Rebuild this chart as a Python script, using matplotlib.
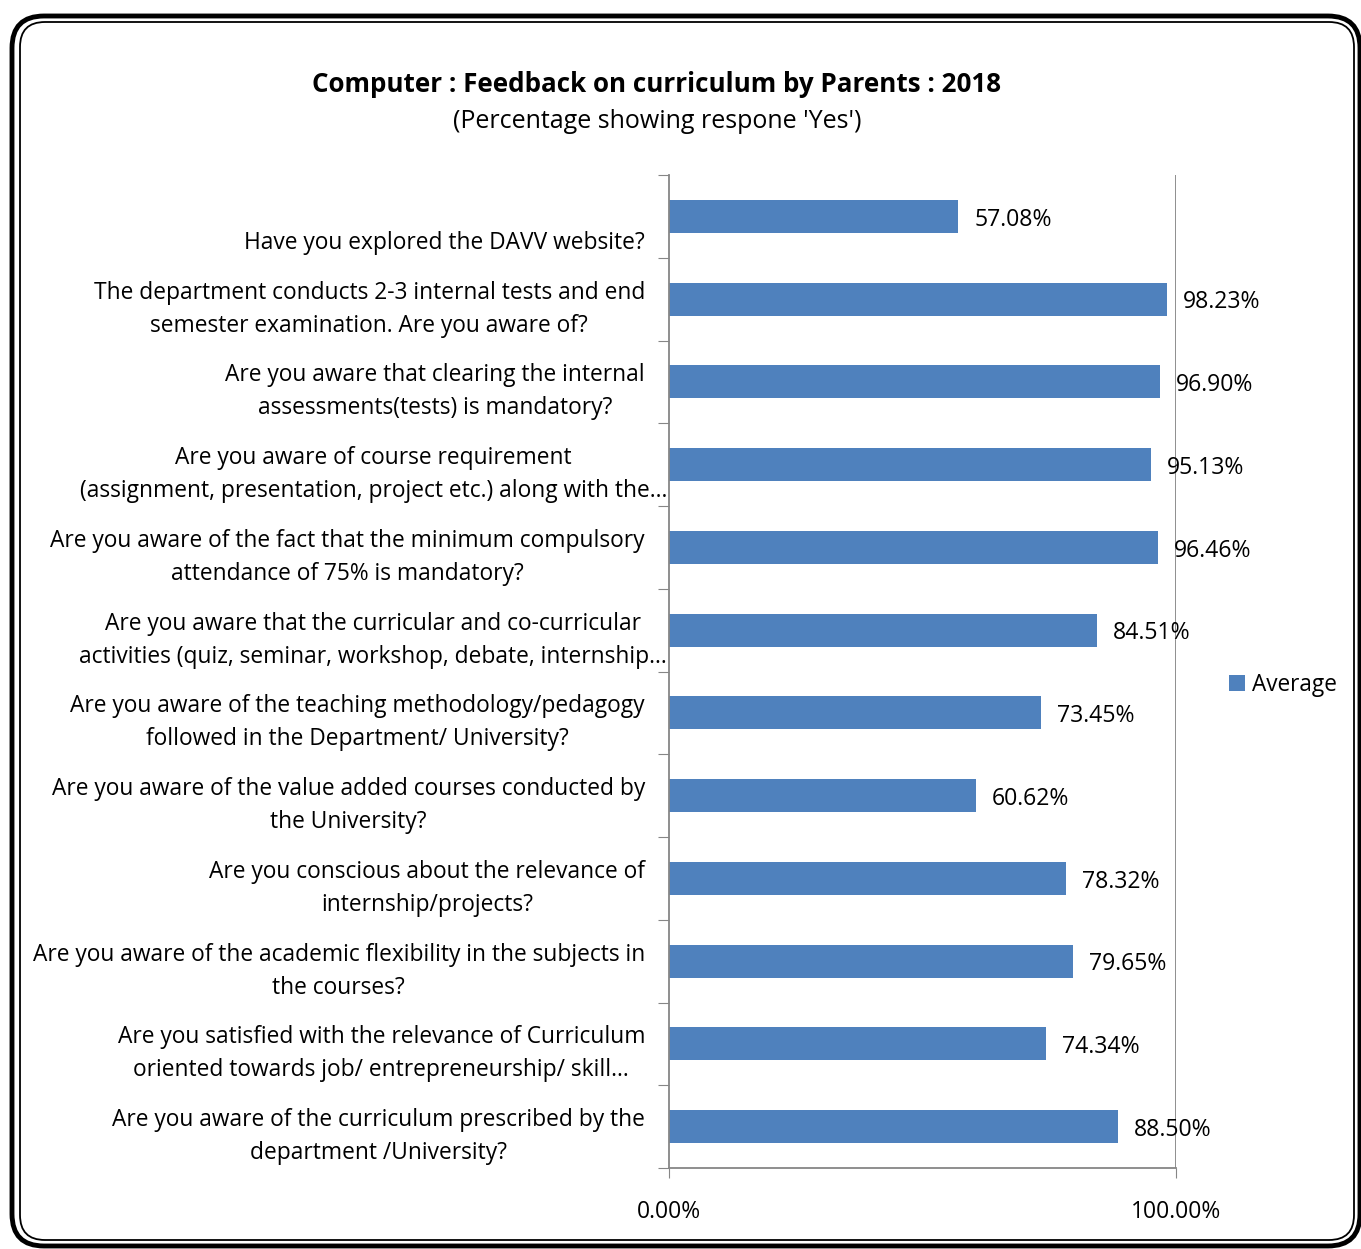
import matplotlib
matplotlib.use('Agg')
import matplotlib.pyplot as plt
from matplotlib.patches import FancyBboxPatch
from matplotlib.transforms import blended_transform_factory, offset_copy

plt.rcParams['font.family'] = ['Open Sans', 'DejaVu Sans']

# categories listed bottom to top (Excel order)
questions = [
    "Are you aware of the curriculum prescribed by the\ndepartment /University?",
    "Are you satisfied with the relevance of Curriculum\noriented towards job/ entrepreneurship/ skill…",
    "Are you aware of the academic flexibility in the subjects in\nthe courses?",
    "Are you conscious about the relevance of\ninternship/projects?",
    "Are you aware of the value added courses conducted by\nthe University?",
    "Are you aware of the teaching methodology/pedagogy\nfollowed in the Department/ University?",
    "Are you aware that the curricular and co-curricular\nactivities (quiz, seminar, workshop, debate, internship…",
    "Are you aware of the fact that the minimum compulsory\nattendance of 75% is mandatory?",
    "Are you aware of course requirement\n(assignment, presentation, project etc.) along with the…",
    "Are you aware that clearing the internal\nassessments(tests) is mandatory?",
    "The department conducts 2-3 internal tests and end\nsemester examination. Are you aware of?",
    "\nHave you explored the DAVV website?",
]
average = [88.50, 74.34, 79.65, 78.32, 60.62, 73.45, 84.51, 96.46, 95.13, 96.90, 98.23, 57.08]
truncated = [6, 8]  # labels that run past the usual right edge
xticks = [0, 100]
xticklabels = ['0.00%', '100.00%']

W, H = 1361, 1249
fig = plt.figure(figsize=(W/100, H/100), dpi=100)

# rounded double frame
def frame(x0, y0, x1, y1, lw, r):
    p = FancyBboxPatch((x0/W, 1-y1/H), (x1-x0)/W, (y1-y0)/H,
                       boxstyle="round,pad=0,rounding_size=%f" % (r/W),
                       transform=fig.transFigure, fill=False, ec='black', lw=lw,
                       mutation_aspect=W/H)
    fig.patches.append(p)
frame(12, 16, 1360, 1246, 3.5, 32)
frame(20, 22, 1354, 1240, 1.3, 25)

ax = fig.add_axes([669/W, 1-1168/H, (1176-669)/W, (1168-175)/H])
y = list(range(len(questions)))
ax.barh(y, average, height=0.4, color='#4F81BD', label='Average', zorder=2)
ax.set_xlim(0, 100)
ax.set_ylim(-0.5, len(questions)-0.5)

for s in ['top', 'right']:
    ax.spines[s].set_visible(False)
for s in ['left', 'bottom']:
    ax.spines[s].set_color('#868686')
    ax.spines[s].set_linewidth(1.3)
ax.axvline(100, color='#868686', lw=1.3, zorder=1)

ax.set_xticks(xticks)
ax.set_xticklabels(xticklabels, fontsize=16.5)
ax.tick_params(axis='x', direction='out', length=7, color='#868686', pad=16)
ax.set_yticks([i-0.5 for i in range(len(questions)+1)])
ax.set_yticklabels([])
ax.tick_params(axis='y', direction='out', length=8, color='#868686')

bt = blended_transform_factory(ax.transAxes, ax.transData)
for i, q in enumerate(questions):
    dx = -2 if i in truncated else -24
    ax.text(0, i - 0.12, q, transform=offset_copy(bt, fig=fig, x=dx, units='dots'),
            ha='right', va='center', multialignment='center', fontsize=16.4,
            linespacing=1.5)

for i, v in enumerate(average):
    ax.text(v + 3.1, i - 0.04, '%.2f%%' % v, ha='left', va='center', fontsize=16.6)

fig.text(657/W, 1-84/H, 'Computer : Feedback on curriculum by Parents : 2018',
         ha='center', va='center', fontsize=18.7, fontweight='bold')
fig.text(657/W, 1-121/H, "(Percentage showing respone 'Yes')",
         ha='center', va='center', fontsize=18)

fig.legend(loc='center left', bbox_to_anchor=(1220/W, 1-685/H), frameon=False,
           fontsize=16.3, handlelength=0.7, handleheight=0.7, handletextpad=0.3,
           borderaxespad=0)

fig.savefig('out.png', dpi=100)
